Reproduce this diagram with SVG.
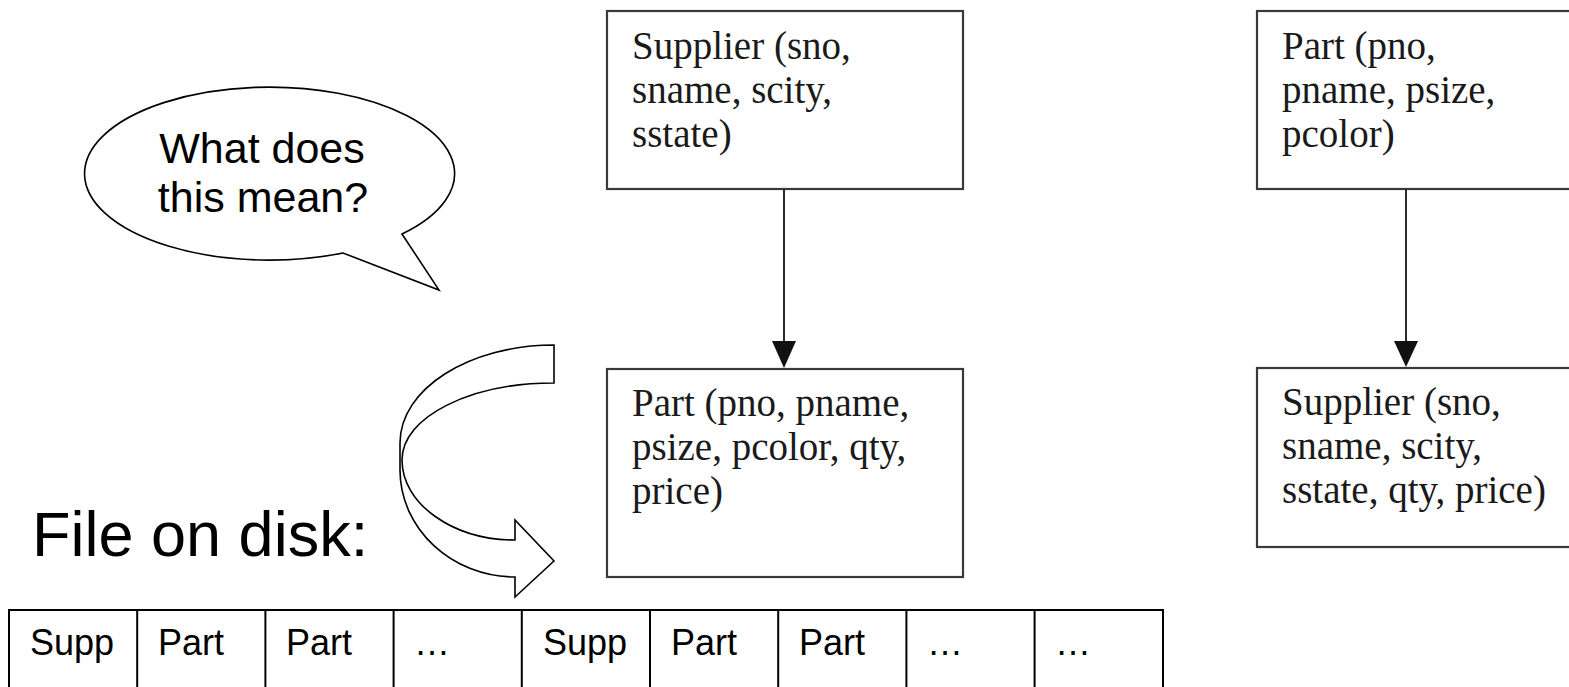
<svg xmlns="http://www.w3.org/2000/svg" width="1569" height="687" viewBox="0 0 1569 687">
  <style>
    .box { fill: #ffffff; stroke: #3a3a3a; stroke-width: 2.2; }
    .rel { font-family: "Liberation Serif", "Times New Roman", serif; font-size: 39px; fill: #1a1a1a; }
    .sans { font-family: "Liberation Sans", Arial, sans-serif; fill: #000000; }
    .cell { font-size: 36px; }
    .edge { stroke: #2a2a2a; stroke-width: 2; fill: none; }
    .head { fill: #111111; stroke: none; }
    .outline { fill: #ffffff; stroke: #000000; stroke-width: 1.6; stroke-linejoin: miter; }
    .grid { fill: none; stroke: #000000; stroke-width: 2; }
  </style>

  <rect width="1569" height="687" fill="#ffffff"/>

  <!-- speech bubble -->
  <g id="bubble">
    <path class="outline" d="M402,234 A185,86.5 0 1 0 343,253 L439,290 Z"/>
    <text class="sans" font-size="43" text-anchor="middle">
      <tspan x="268" y="163">What does</tspan>
      <tspan x="263" y="212">this mean?</tspan>
    </text>
  </g>

  <!-- curved ribbon arrow pointing at the file -->
  <g id="curved-arrow">
    <path class="outline" d="M554,345 C469,345 400,389 400,443 L400,470 C400,529 452,577 515,577 L515,597 L554,561 L515,520 L515,540 C453,540 402,504 402,460 C402,417 470,383 554,383 Z"/>
  </g>

  <!-- hierarchy 1: supplier owns parts -->
  <g id="supplier-top">
    <rect class="box" x="607" y="11" width="356" height="178"/>
    <text class="rel">
      <tspan x="632" y="59">Supplier (sno,</tspan>
      <tspan x="632" y="103">sname, scity,</tspan>
      <tspan x="632" y="147">sstate)</tspan>
    </text>
  </g>
  <g id="part-child">
    <rect class="box" x="607" y="369" width="356" height="208"/>
    <text class="rel">
      <tspan x="632" y="416">Part (pno, pname,</tspan>
      <tspan x="632" y="460">psize, pcolor, qty,</tspan>
      <tspan x="632" y="504">price)</tspan>
    </text>
  </g>

  <!-- hierarchy 2: part owns suppliers -->
  <g id="part-top">
    <rect class="box" x="1257" y="11" width="360" height="178"/>
    <text class="rel">
      <tspan x="1282" y="59">Part (pno,</tspan>
      <tspan x="1282" y="103">pname, psize,</tspan>
      <tspan x="1282" y="147">pcolor)</tspan>
    </text>
  </g>
  <g id="supplier-child">
    <rect class="box" x="1257" y="368" width="360" height="179"/>
    <text class="rel">
      <tspan x="1282" y="415">Supplier (sno,</tspan>
      <tspan x="1282" y="459">sname, scity,</tspan>
      <tspan x="1282" y="503">sstate, qty, price)</tspan>
    </text>
  </g>

  <g id="connectors">
    <line class="edge" x1="784" y1="189" x2="784" y2="345"/>
    <path class="head" d="M772,341 L796,341 L784,368 Z"/>
    <line class="edge" x1="1406" y1="189" x2="1406" y2="345"/>
    <path class="head" d="M1394,341 L1418,341 L1406,367 Z"/>
  </g>

  <!-- file layout -->
  <g id="file-label">
    <text class="sans" x="32" y="556" font-size="63">File on disk:</text>
  </g>
  <g id="file-records">
    <rect class="grid" x="9" y="610" width="1154" height="78"/>
    <path class="grid" d="M137.2,610 V687 M265.4,610 V687 M393.6,610 V687 M521.8,610 V687 M650,610 V687 M778.2,610 V687 M906.4,610 V687 M1034.6,610 V687"/>
    <g class="sans cell">
      <text x="30" y="655">Supp</text>
      <text x="158" y="655">Part</text>
      <text x="286" y="655">Part</text>
      <text x="414" y="655">…</text>
      <text x="543" y="655">Supp</text>
      <text x="671" y="655">Part</text>
      <text x="799" y="655">Part</text>
      <text x="927" y="655">…</text>
      <text x="1055" y="655">…</text>
    </g>
  </g>
</svg>
